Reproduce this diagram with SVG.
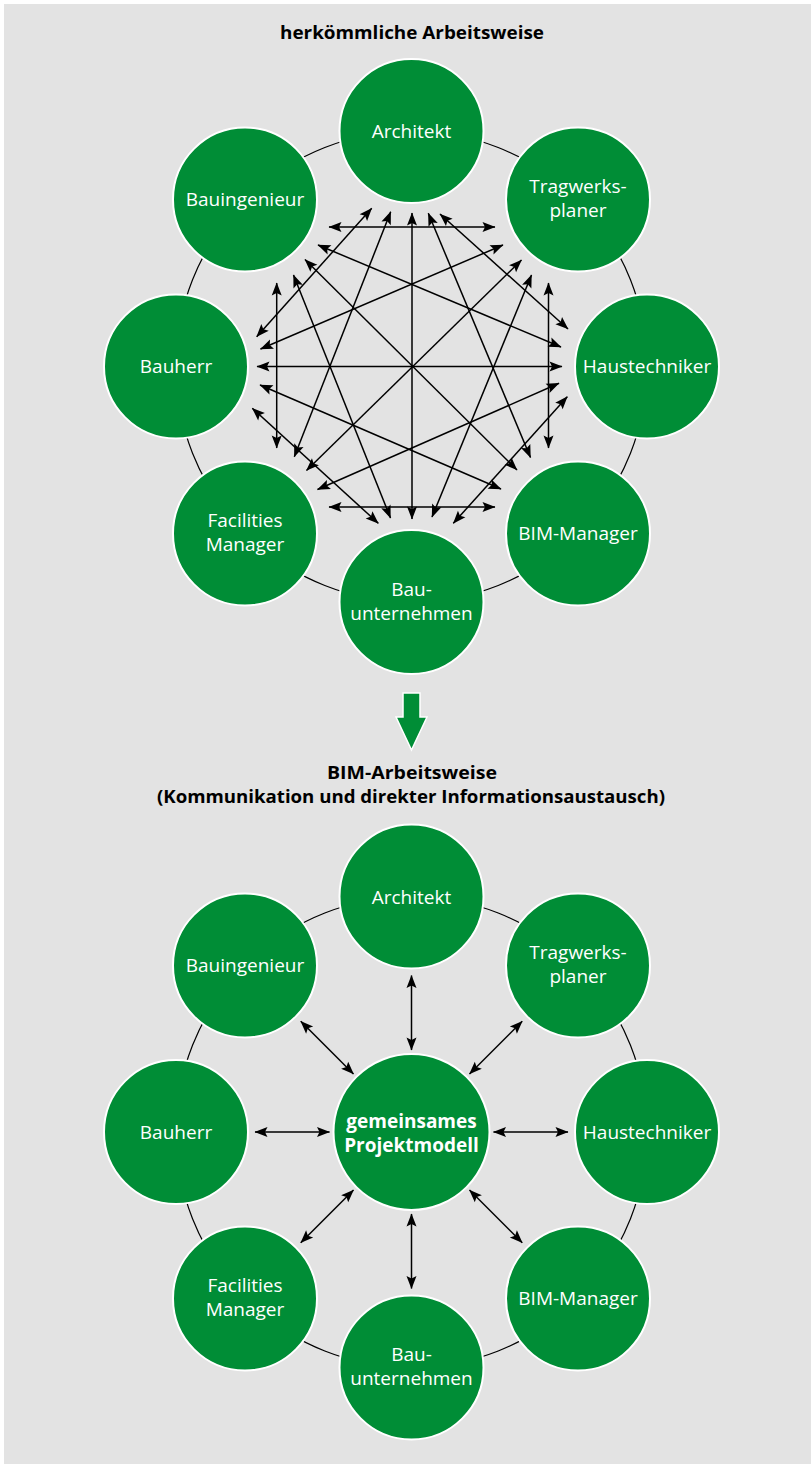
<svg xmlns="http://www.w3.org/2000/svg" width="811" height="1464" viewBox="0 0 811 1464">
<style>
.bg{fill:#e3e3e3}
.ring{fill:none;stroke:#000;stroke-width:1.2}
.node circle{fill:#008d36;stroke:#fff;stroke-width:2}
.node text{fill:#fff;font-family:"Open Sans","Noto Sans",sans-serif;font-size:19px;text-anchor:middle}
.hub text{font-weight:bold;font-size:19px}
.title{fill:#000;font-family:"Open Sans","Noto Sans",sans-serif;font-weight:bold;font-size:17.6px;text-anchor:middle}
.con line{stroke:#000;stroke-width:1.5;marker-start:url(#ah);marker-end:url(#ah)}
</style>
<defs>
<marker id="ah" markerUnits="userSpaceOnUse" markerWidth="20" markerHeight="20" refX="0" refY="0" orient="auto-start-reverse" overflow="visible" viewBox="-15 -10 20 20">
<path d="M0.5,0 L-12.5,-5 L-10,0 L-12.5,5 Z" fill="#000"/>
</marker>
</defs>
<rect class="bg" x="4" y="4" width="807" height="1460"/>

<text class="title" x="412" y="39" textLength="264" lengthAdjust="spacingAndGlyphs">herkömmliche Arbeitsweise</text>

<circle class="ring" cx="411.5" cy="366.5" r="235.5"/>

<g id="web" class="con">
<line x1="329" y1="227" x2="495" y2="227"/>
<line x1="257" y1="366.5" x2="562" y2="366.5"/>
<line x1="329" y1="507" x2="495" y2="507"/>
<line x1="412" y1="213" x2="412" y2="519"/>
<line x1="276.7" y1="283" x2="276.7" y2="448"/>
<line x1="548.5" y1="283" x2="548.5" y2="448"/>
<line x1="371.7" y1="208.3" x2="256.7" y2="336.7"/>
<line x1="390.7" y1="211.7" x2="294.3" y2="456.7"/>
<line x1="428.3" y1="213.3" x2="530.5" y2="457.5"/>
<line x1="440" y1="214" x2="568" y2="329"/>
<line x1="318" y1="245" x2="561" y2="347"/>
<line x1="305" y1="259.5" x2="517" y2="470"/>
<line x1="293.5" y1="275" x2="390.5" y2="518"/>
<line x1="503" y1="245" x2="260.5" y2="349"/>
<line x1="521.5" y1="260" x2="306.5" y2="470.5"/>
<line x1="531.5" y1="275" x2="432" y2="517"/>
<line x1="559" y1="383.3" x2="317.5" y2="489.5"/>
<line x1="567.3" y1="396.7" x2="453.3" y2="523.3"/>
<line x1="260" y1="385" x2="501" y2="489"/>
<line x1="252.3" y1="408.3" x2="378.3" y2="523.3"/>
</g>

<g id="t-architekt" class="node"><circle cx="411.5" cy="131" r="72"/><text x="411.5" y="138">Architekt</text></g>
<g id="t-tragwerksplaner" class="node"><circle cx="578" cy="199.5" r="72"/><text x="578" y="193">Tragwerks-</text><text x="578" y="217">planer</text></g>
<g id="t-haustechniker" class="node"><circle cx="647" cy="366.5" r="72"/><text x="647" y="373.3">Haustechniker</text></g>
<g id="t-bim-manager" class="node"><circle cx="578" cy="533.5" r="72"/><text x="578" y="540.3">BIM-Manager</text></g>
<g id="t-bauunternehmen" class="node"><circle cx="411.5" cy="602" r="72"/><text x="411.5" y="595.5">Bau-</text><text x="411.5" y="619.5">unternehmen</text></g>
<g id="t-facilities" class="node"><circle cx="245" cy="533.5" r="72"/><text x="245" y="527">Facilities</text><text x="245" y="551">Manager</text></g>
<g id="t-bauherr" class="node"><circle cx="176" cy="366.5" r="72"/><text x="176" y="373.3">Bauherr</text></g>
<g id="t-bauingenieur" class="node"><circle cx="245" cy="199.5" r="72"/><text x="245" y="206.3">Bauingenieur</text></g>

<g id="transition">
<polygon points="403,693 420,693 420,717 427,717 411.5,750 396,717 403,717" fill="#008d36" stroke="#fff" stroke-width="1.5" stroke-linejoin="miter"/>
</g>

<text class="title" x="412" y="779" textLength="170" lengthAdjust="spacingAndGlyphs">BIM-Arbeitsweise</text>
<text class="title" x="411" y="803" textLength="508" lengthAdjust="spacingAndGlyphs">(Kommunikation und direkter Informationsaustausch)</text>

<circle class="ring" cx="411.5" cy="1132" r="235.5"/>

<g id="hub-links" class="con">
<line x1="411.5" y1="1050" x2="411.5" y2="975.5"/>
<line x1="469.5" y1="1074" x2="522.2" y2="1021.3"/>
<line x1="493.5" y1="1132" x2="568" y2="1132"/>
<line x1="469.5" y1="1190" x2="522.2" y2="1242.7"/>
<line x1="411.5" y1="1214" x2="411.5" y2="1288.5"/>
<line x1="353.5" y1="1190" x2="300.8" y2="1242.7"/>
<line x1="329.5" y1="1132" x2="255" y2="1132"/>
<line x1="353.5" y1="1074" x2="300.8" y2="1021.3"/>
</g>

<g id="b-architekt" class="node"><circle cx="411.5" cy="896.5" r="72"/><text x="411.5" y="903.5">Architekt</text></g>
<g id="b-tragwerksplaner" class="node"><circle cx="578" cy="965.5" r="72"/><text x="578" y="959">Tragwerks-</text><text x="578" y="983">planer</text></g>
<g id="b-haustechniker" class="node"><circle cx="647" cy="1132" r="72"/><text x="647" y="1138.8">Haustechniker</text></g>
<g id="b-bim-manager" class="node"><circle cx="578" cy="1298.5" r="72"/><text x="578" y="1305.3">BIM-Manager</text></g>
<g id="b-bauunternehmen" class="node"><circle cx="411.5" cy="1367.5" r="72"/><text x="411.5" y="1361">Bau-</text><text x="411.5" y="1385">unternehmen</text></g>
<g id="b-facilities" class="node"><circle cx="245" cy="1298.5" r="72"/><text x="245" y="1292">Facilities</text><text x="245" y="1316">Manager</text></g>
<g id="b-bauherr" class="node"><circle cx="176" cy="1132" r="72"/><text x="176" y="1138.8">Bauherr</text></g>
<g id="b-bauingenieur" class="node"><circle cx="245" cy="965.5" r="72"/><text x="245" y="972.3">Bauingenieur</text></g>

<g id="b-hub" class="node hub"><circle cx="411.5" cy="1132" r="78"/><text x="411.5" y="1128">gemeinsames</text><text x="411.5" y="1152">Projektmodell</text></g>
</svg>
